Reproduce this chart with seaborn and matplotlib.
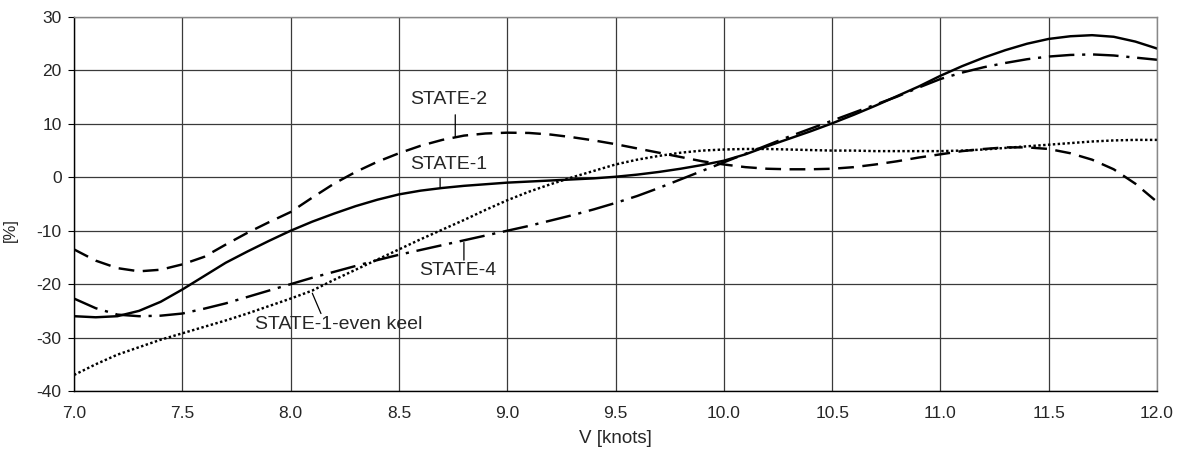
import numpy as np
import pandas as pd
import matplotlib
matplotlib.use("Agg")
import matplotlib.pyplot as plt
import seaborn as sns

# speed [knots]
speed = [7.0, 7.1, 7.2, 7.3, 7.4, 7.5, 7.6, 7.7, 7.8, 7.9,
         8.0, 8.1, 8.2, 8.3, 8.4, 8.5, 8.6, 8.7, 8.8, 8.9,
         9.0, 9.1, 9.2, 9.3, 9.4, 9.5, 9.6, 9.7, 9.8, 9.9,
         10.0, 10.1, 10.2, 10.3, 10.4, 10.5, 10.6, 10.7, 10.8, 10.9,
         11.0, 11.1, 11.2, 11.3, 11.4, 11.5, 11.6, 11.7, 11.8, 11.9,
         12.0]

state1 = [-26.0, -26.2, -26.0, -25.0, -23.3, -21.0, -18.5, -16.0, -13.9, -11.9,
          -10.0, -8.3, -6.8, -5.4, -4.2, -3.2, -2.5, -2.0, -1.6, -1.3,
          -1.0, -0.8, -0.6, -0.4, -0.2, 0.1, 0.5, 1.0, 1.6, 2.3,
          3.1, 4.3, 5.8, 7.2, 8.6, 10.1, 11.7, 13.4, 15.2, 17.0,
          19.0, 20.8, 22.4, 23.8, 25.0, 25.9, 26.4, 26.6, 26.3, 25.4,
          24.1]

state2 = [-13.5, -15.6, -17.0, -17.6, -17.3, -16.3, -14.9, -12.6, -10.4, -8.4,
          -6.5, -3.8, -1.2, 1.0, 2.9, 4.5, 5.9, 7.0, 7.8, 8.2,
          8.35, 8.3, 8.0, 7.5, 6.9, 6.2, 5.4, 4.6, 3.8, 3.0,
          2.4, 1.9, 1.6, 1.5, 1.5, 1.6, 1.9, 2.4, 3.0, 3.7,
          4.3, 4.9, 5.3, 5.6, 5.6, 5.3, 4.5, 3.3, 1.5, -1.2,
          -4.6]

state1_even = [-37.0, -35.0, -33.2, -31.8, -30.4, -29.2, -28.0, -26.8, -25.5, -24.1,
               -22.7, -21.2, -19.2, -17.3, -15.4, -13.5, -11.6, -9.8, -8.0, -6.1,
               -4.3, -2.7, -1.3, 0.0, 1.2, 2.4, 3.3, 4.0, 4.6, 5.0,
               5.2, 5.3, 5.3, 5.2, 5.1, 5.0, 5.0, 4.9, 4.9, 4.9,
               4.9, 5.0, 5.2, 5.5, 5.8, 6.1, 6.4, 6.7, 6.9, 7.0,
               7.0]

state4 = [-22.7, -24.5, -25.7, -26.0, -25.9, -25.5, -24.6, -23.6, -22.4, -21.2,
          -20.0, -18.8, -17.7, -16.6, -15.5, -14.5, -13.6, -12.7, -11.8, -10.9,
          -10.0, -9.1, -8.1, -7.1, -6.0, -4.8, -3.5, -2.0, -0.4, 1.2,
          2.8, 4.4, 6.0, 7.6, 9.1, 10.6, 12.1, 13.6, 15.1, 16.8,
          18.4, 19.6, 20.6, 21.4, 22.1, 22.6, 22.9, 23.0, 22.8, 22.4,
          22.0]

x_ticks = [7.0, 7.5, 8.0, 8.5, 9.0, 9.5, 10.0, 10.5, 11.0, 11.5, 12.0]
y_ticks = [-40, -30, -20, -10, 0, 10, 20, 30]

df = pd.DataFrame({"V": speed, "STATE-1": state1, "STATE-2": state2,
                   "STATE-1-even keel": state1_even, "STATE-4": state4})

sns.set_theme(style="white")
plt.rcParams["font.family"] = ["Liberation Sans", "DejaVu Sans"]
plt.rcParams["axes.unicode_minus"] = False

fig = plt.figure(figsize=(11.81, 4.5), dpi=100)
ax = fig.add_axes([0.0627, 0.1311, 0.917, 0.8311])

styles = {
    "STATE-1": "-",
    "STATE-2": (0, (6.5, 3.5)),
    "STATE-1-even keel": (0, (1.0, 1.0)),
    "STATE-4": (0, (10.5, 3.2, 1.3, 3.2)),
}
for name, ls in styles.items():
    sns.lineplot(data=df, x="V", y=name, ax=ax, color="black",
                 linewidth=1.75, linestyle=ls, sort=False)

ax.set_xlim(7.0, 12.0)
ax.set_ylim(-40, 30)
ax.set_xticks(x_ticks)
ax.set_xticklabels([f"{t:.1f}" for t in x_ticks])
ax.set_yticks(y_ticks)
ax.grid(True, color="#3a3a3a", linewidth=0.9)
ax.tick_params(axis="x", length=0, pad=11, labelsize=12.5)
ax.tick_params(axis="y", length=4, width=0.8, color="black", pad=5,
               labelsize=12.5, left=True)

for side in ["left", "bottom"]:
    ax.spines[side].set_color("black")
    ax.spines[side].set_linewidth(1.0)
for side in ["top", "right"]:
    ax.spines[side].set_color("#888888")
    ax.spines[side].set_linewidth(1.0)

ax.set_xlabel("V [knots]", fontsize=13.5)
ax.xaxis.set_label_coords(0.5, -0.105)
ax.set_ylabel("[%]", fontsize=12)
ax.yaxis.set_label_coords(-0.052, 0.43)

# curve labels with leader lines
labels = [
    ("STATE-2", (8.73, 14.5), (8.76, 7.6), (8.76, 11.7)),
    ("STATE-1", (8.73, 2.4), (8.69, -2.0), (8.69, -0.2)),
    ("STATE-4", (8.77, -17.4), (8.80, -12.2), (8.80, -15.5)),
    ("STATE-1-even keel", (8.22, -27.6), (8.10, -21.7), (8.14, -25.5)),
]
for text, pos, tip, end in labels:
    ax.text(pos[0], pos[1], text, fontsize=14, ha="center", va="center")
    ax.annotate("", xy=tip, xytext=end,
                arrowprops=dict(arrowstyle="-", color="black", lw=0.9,
                                shrinkA=0, shrinkB=0))

fig.savefig("out.png", dpi=100)
